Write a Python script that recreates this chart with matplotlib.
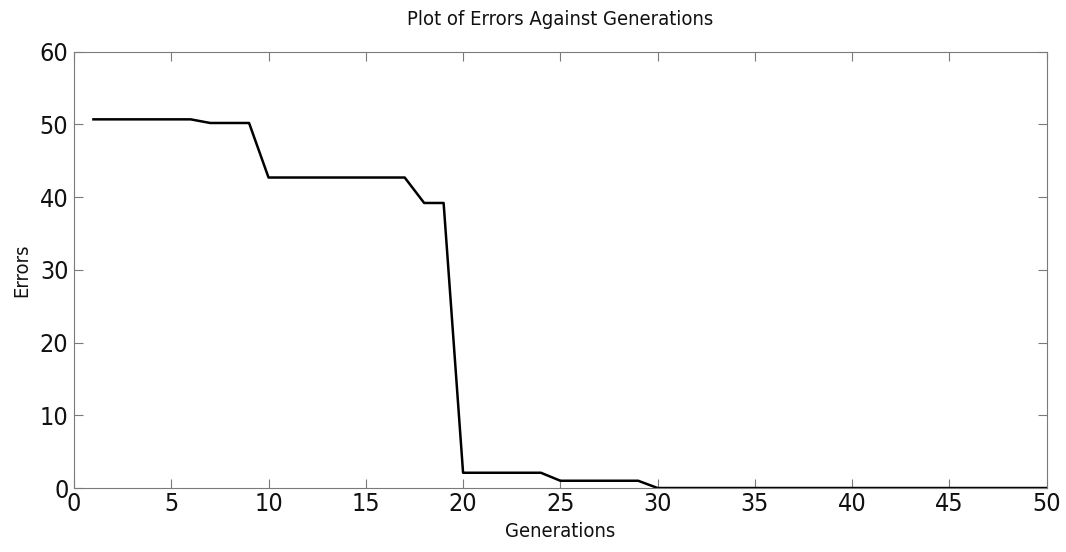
import matplotlib
matplotlib.use("Agg")
import matplotlib.pyplot as plt

# best error per generation of the GA run
generations = list(range(1, 51))
errors = [50.7, 50.7, 50.7, 50.7, 50.7, 50.7, 50.2, 50.2, 50.2, 42.7,
          42.7, 42.7, 42.7, 42.7, 42.7, 42.7, 42.7, 39.2, 39.2, 2.1,
          2.1, 2.1, 2.1, 2.1, 1.0, 1.0, 1.0, 1.0, 1.0, 0.0] + [0.0] * 20

x_ticks = list(range(0, 51, 5))
y_ticks = list(range(0, 61, 10))

# narrow lettering: DejaVu Sans Condensed
plt.rcParams["font.family"] = ["DejaVu Sans"]
plt.rcParams["font.stretch"] = "condensed"

fig = plt.figure(figsize=(10.66, 5.52), dpi=100)
ax = fig.add_axes([0.0694, 0.1159, 0.9125, 0.7904])

ax.plot(generations, errors, color="black", lw=1.8)

ax.set_xlim(0, 50)
ax.set_ylim(0, 60)
ax.set_xticks(x_ticks)
ax.set_yticks(y_ticks)

# matlab-like box with inward ticks on every side
for s in ax.spines.values():
    s.set_color("#7a7a7a")
    s.set_linewidth(0.8)
ax.tick_params(direction="in", length=6.5, width=0.8, color="#7a7a7a",
               top=True, right=True, labelsize=18, labelcolor="#111111")
ax.tick_params(axis="x", pad=3)
ax.tick_params(axis="y", pad=4)

ax.set_title("Plot of Errors Against Generations", fontsize=14.5, pad=19,
             color="#111111")
ax.set_xlabel("Generations", fontsize=14.5, labelpad=4, color="#111111")
ax.set_ylabel("Errors", fontsize=14.5, labelpad=6, color="#111111")

fig.savefig("out.png", dpi=100)
